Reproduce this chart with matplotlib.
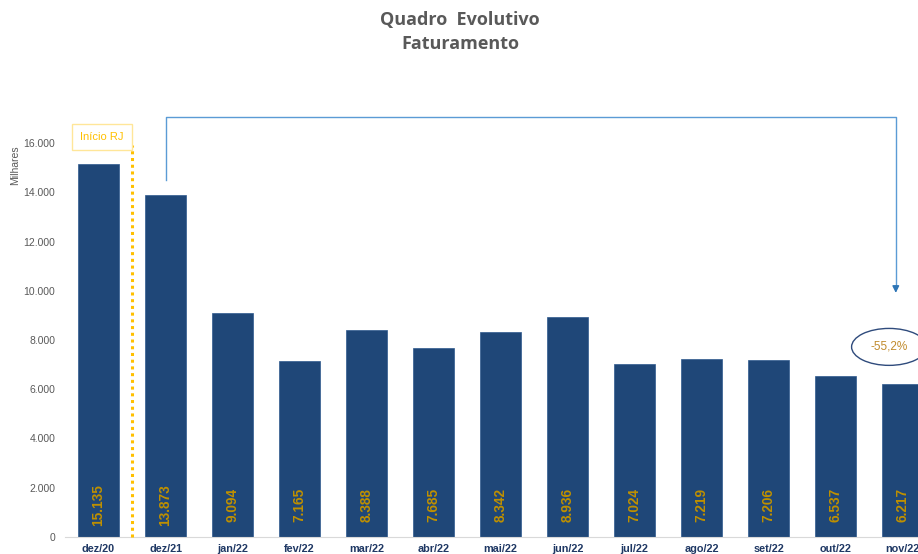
import matplotlib
matplotlib.use("Agg")
import matplotlib.pyplot as plt
from matplotlib.patches import Ellipse

categories = ["dez/20", "dez/21", "jan/22", "fev/22", "mar/22", "abr/22", "mai/22",
              "jun/22", "jul/22", "ago/22", "set/22", "out/22", "nov/22"]
values = [15135, 13873, 9094, 7165, 8388, 7685, 8342, 8936, 7024, 7219, 7206, 6537, 6217]
value_labels = ["15.135", "13.873", "9.094", "7.165", "8.388", "7.685", "8.342",
                "8.936", "7.024", "7.219", "7.206", "6.537", "6.217"]
yticks = [0, 2000, 4000, 6000, 8000, 10000, 12000, 14000, 16000]
ytick_labels = ["0", "2.000", "4.000", "6.000", "8.000", "10.000", "12.000", "14.000", "16.000"]
change_label = "-55,2%"

plt.rcParams['font.family'] = ['Liberation Sans', 'DejaVu Sans']

W, H = 918, 554
fig = plt.figure(figsize=(W / 100, H / 100), dpi=100)
left = 65 / W
bottom = (H - 537) / H
width = 871 / W
height = (537 - 143) / H
ax = fig.add_axes([left, bottom, width, height])

x = list(range(len(categories)))
ax.bar(x, values, width=0.6, color="#1F4778", edgecolor="#2E5A8E", linewidth=0.5, zorder=2)
ax.set_xlim(-0.5, len(categories) - 0.5)
ax.set_ylim(0, 16000)

for xi, lab in zip(x, value_labels):
    ax.text(xi, 1300, lab, rotation=90, ha="center", va="center", fontsize=9.8,
            color="#BF9000", fontweight="bold")

ax.set_xticks(x)
ax.set_xticklabels(categories, fontsize=7.8, fontweight="bold", color="#1F3864")
ax.set_yticks(yticks)
ax.set_yticklabels(ytick_labels, fontsize=7.5, color="#595959")
ax.tick_params(axis="both", length=0)
ax.tick_params(axis="y", pad=7)
ax.tick_params(axis="x", pad=5)
for s in ["top", "right", "left"]:
    ax.spines[s].set_visible(False)
ax.spines["bottom"].set_color("#D9D9D9")

fig.text(15 / W, 1 - 165 / H, "Milhares", rotation=90, ha="center", va="center",
         fontsize=7.5, color="#595959")

fig.text(460 / W, 1 - 20 / H, "Quadro  Evolutivo", ha="center", va="center",
         fontsize=13, fontweight="bold", color="#595959", family=["Open Sans", "DejaVu Sans"])
fig.text(460 / W, 1 - 44 / H, "Faturamento", ha="center", va="center",
         fontsize=13, fontweight="bold", color="#595959", family=["Open Sans", "DejaVu Sans"])

# Inicio RJ marker
ax.plot([0.5, 0.5], [0, 15900], linestyle=(0, (1, 1.2)), color="#FFC000", linewidth=2.2,
        clip_on=False, zorder=3)
ax.text(0.05, 16250, "Início RJ", ha="center", va="center", fontsize=8, color="#FFC000",
        bbox=dict(boxstyle="square,pad=0.75", facecolor="white", edgecolor="#FFE699", linewidth=1))

# bracket arrow
ax.plot([1, 1, 11.9, 11.9], [14500, 17050, 17050, 10100], color="#5B9BD5",
        linewidth=1, clip_on=False, zorder=3)
ax.annotate("", xy=(11.9, 9800), xytext=(11.9, 10300),
            arrowprops=dict(arrowstyle="-|>", color="#2E75B6", lw=1, mutation_scale=10),
            annotation_clip=False)

ell = Ellipse((11.8, 7720), width=1.12, height=1500, facecolor="white",
              edgecolor="#2F4B7C", linewidth=1, zorder=4, clip_on=False)
ax.add_patch(ell)
ax.text(11.8, 7720, change_label, ha="center", va="center", fontsize=8.5,
        color="#C08A2B", zorder=5)

fig.savefig("out.png", dpi=100)
